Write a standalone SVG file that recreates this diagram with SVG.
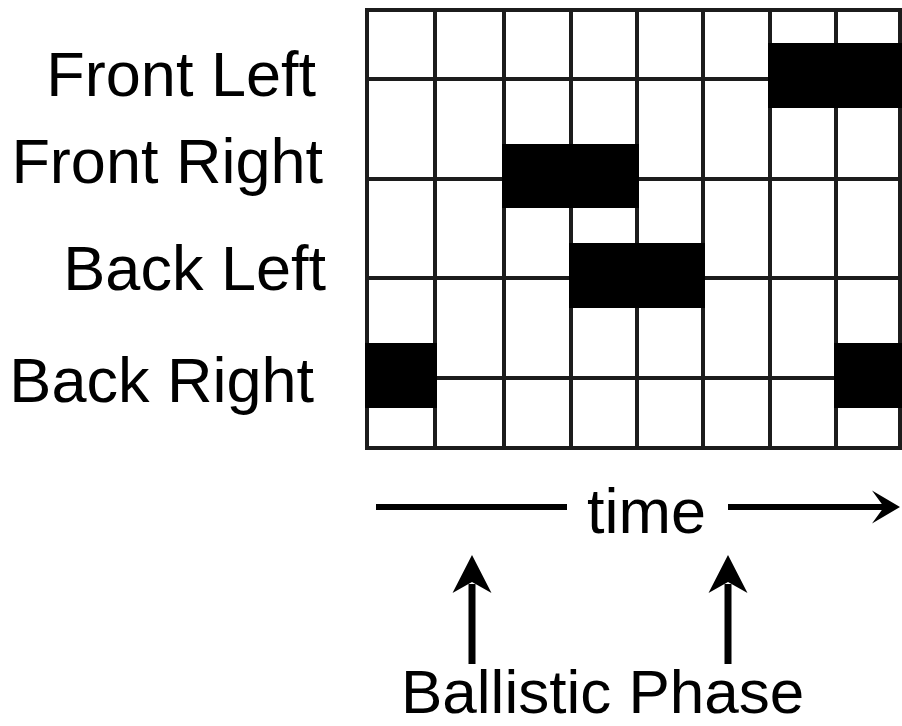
<svg xmlns="http://www.w3.org/2000/svg" width="902" height="726" viewBox="0 0 902 726">
  <style>
    .lbl { font-family: "Liberation Sans", Arial, sans-serif; font-size: 63px; fill: #000; }
    .grid { stroke: #1c1c1c; stroke-width: 4; fill: none; }
    .blk { fill: #000; }
    .conn { stroke: #000; fill: none; }
  </style>
  <defs>
    <marker id="headTime" markerUnits="userSpaceOnUse" orient="auto" refX="0" refY="0" markerWidth="40" markerHeight="40" overflow="visible">
      <path d="M14,0 L-14,-16.5 L-2,0 L-14,16.5 Z" fill="#000"/>
    </marker>
    <marker id="headUp" markerUnits="userSpaceOnUse" orient="auto" refX="0" refY="0" markerWidth="50" markerHeight="50" overflow="visible">
      <path d="M29,0 L-9,-19.5 L2,0 L-9,19.5 Z" fill="#000"/>
    </marker>
  </defs>
  <rect width="902" height="726" fill="#fff"/>

  <g id="grid">
    <g class="grid">
      <line x1="367" y1="10" x2="902" y2="10"/>
      <line x1="367" y1="79" x2="902" y2="79"/>
      <line x1="367" y1="179" x2="902" y2="179"/>
      <line x1="367" y1="278" x2="902" y2="278"/>
      <line x1="367" y1="378" x2="902" y2="378"/>
      <line x1="365" y1="448" x2="902" y2="448"/>
      <line x1="367" y1="8" x2="367" y2="450"/>
      <line x1="435" y1="8" x2="435" y2="450"/>
      <line x1="504" y1="8" x2="504" y2="450"/>
      <line x1="571" y1="8" x2="571" y2="450"/>
      <line x1="637" y1="8" x2="637" y2="450"/>
      <line x1="703" y1="8" x2="703" y2="450"/>
      <line x1="770" y1="8" x2="770" y2="450"/>
      <line x1="836" y1="8" x2="836" y2="450"/>
      <line x1="900" y1="8" x2="900" y2="450"/>
    </g>
  </g>

  <g id="node-front-left">
    <rect class="blk" x="768" y="43" width="134" height="65"/>
    <text class="lbl" x="316" y="96" text-anchor="end">Front Left</text>
  </g>
  <g id="node-front-right">
    <rect class="blk" x="502" y="144" width="137" height="64"/>
    <text class="lbl" x="323" y="183" text-anchor="end">Front Right</text>
  </g>
  <g id="node-back-left">
    <rect class="blk" x="569" y="243" width="136" height="65"/>
    <text class="lbl" x="326" y="290" text-anchor="end">Back Left</text>
  </g>
  <g id="node-back-right">
    <rect class="blk" x="365" y="343" width="72" height="65"/>
    <rect class="blk" x="834" y="343" width="68" height="65"/>
    <text class="lbl" x="314" y="402" text-anchor="end">Back Right</text>
  </g>

  <g id="node-time">
    <text class="lbl" x="587" y="533">time</text>
  </g>
  <g id="node-ballistic">
    <text class="lbl" x="401" y="713" style="font-size:62px">Ballistic Phase</text>
  </g>

  <g id="connectors">
    <line class="conn" x1="376" y1="507" x2="567" y2="507" stroke-width="6"/>
    <line class="conn" x1="728" y1="507" x2="886" y2="507" stroke-width="6" marker-end="url(#headTime)"/>
    <line class="conn" x1="472" y1="664" x2="472" y2="584" stroke-width="7" marker-end="url(#headUp)"/>
    <line class="conn" x1="728" y1="664" x2="728" y2="584" stroke-width="7" marker-end="url(#headUp)"/>
  </g>
</svg>
